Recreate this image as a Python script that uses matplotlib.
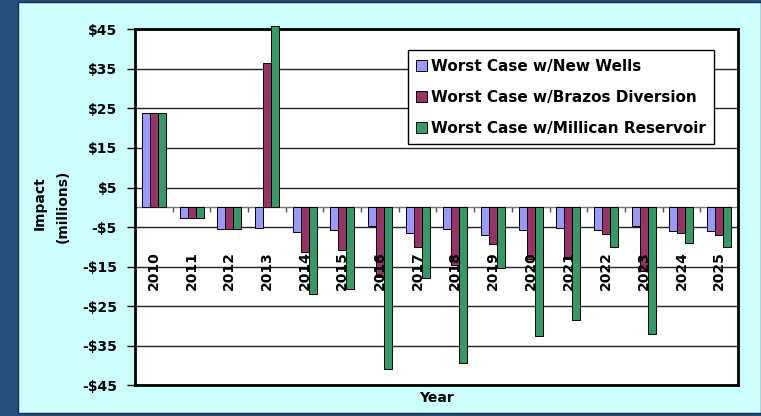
import numpy as np
import matplotlib
matplotlib.use("Agg")
import matplotlib.pyplot as plt
from matplotlib.patches import Rectangle

years = [str(y) for y in range(2010, 2026)]
new_wells = [23.8, -2.6, -5.6, -5.3, -6.2, -5.8, -4.8, -6.5, -5.5, -7.1, -5.8, -5.2, -5.8, -4.8, -6.1, -6.1]
brazos = [23.8, -2.6, -5.6, 36.5, -11.3, -10.9, -17.6, -10.1, -14.5, -9.4, -13.0, -12.5, -6.8, -16.0, -6.6, -7.1]
millican = [23.8, -2.6, -5.6, 45.8, -22.0, -20.6, -40.8, -17.9, -39.3, -15.3, -32.5, -28.4, -10.1, -32.1, -9.1, -10.1]
series_names = ["Worst Case w/New Wells", "Worst Case w/Brazos Diversion", "Worst Case w/Millican Reservoir"]
yticks = list(range(-45, 46, 10))

colors = ["#9999FF", "#993366", "#339966"]
W, H = 761, 416

plt.rcParams["font.family"] = "DejaVu Sans"
plt.rcParams["font.weight"] = "bold"

fig = plt.figure(figsize=(W / 100, H / 100), dpi=100, facecolor="#234F7A")
fig.patches.append(Rectangle((18 / W, 3 / H), 1 - 18 / W, 1 - 5 / H, transform=fig.transFigure,
                             facecolor="#CCFFFF", edgecolor="#10304F", lw=1, zorder=-10))

ax = fig.add_axes([135 / W, 1 - 385.3 / H, 603 / W, 356 / H])
ax.set_facecolor("white")

x = np.arange(len(years))
bw = 0.212
for i, (vals, name) in enumerate(zip([new_wells, brazos, millican], series_names)):
    ax.bar(x + (i - 1) * bw, vals, bw, color=colors[i], edgecolor="black", lw=0.7,
           label=name, zorder=3, clip_on=False)

ax.set_xlim(-0.5, len(years) - 0.5)
ax.set_ylim(-45, 45)
ax.set_yticks(yticks)
ax.set_yticklabels([("-$%d" % -v) if v < 0 else "$%d" % v for v in yticks], fontsize=10, fontweight="bold")
ax.tick_params(axis="y", length=6, width=1, pad=7, colors="black")
ax.set_xticks([])
for v in yticks:
    ax.axhline(v, color="#222222", lw=1, zorder=1)
ax.axhline(0, color="#777777", lw=1, zorder=2)
ax.vlines(x[:-1] + 0.5, -1.3, 0, color="#555555", lw=1, zorder=2)

for s in ax.spines.values():
    s.set_linewidth(2)
    s.set_color("black")

for xi, yr in zip(x, years):
    ax.text(xi, -11, yr, rotation=90, ha="center", va="top", fontsize=10, fontweight="bold", zorder=4)

leg = ax.legend(loc="upper right", bbox_to_anchor=(0.961, 0.941), fontsize=11, frameon=True,
                fancybox=False, edgecolor="black", framealpha=1, handlelength=0.7, handleheight=0.7,
                handletextpad=0.3, labelspacing=1.05, borderpad=0.55, borderaxespad=0)
leg.get_frame().set_linewidth(1)
for t in leg.get_texts():
    t.set_fontweight("bold")
leg.set_zorder(5)

fig.text(40 / W, 1 - 203 / H, "Impact", rotation=90, ha="center", va="center", fontsize=10, fontweight="bold")
fig.text(63 / W, 1 - 206 / H, "(millions)", rotation=90, ha="center", va="center", fontsize=10, fontweight="bold")
fig.text(436.5 / W, 1 - 398 / H, "Year", ha="center", va="center", fontsize=10, fontweight="bold")

fig.savefig("out.png", dpi=100, facecolor=fig.get_facecolor())
